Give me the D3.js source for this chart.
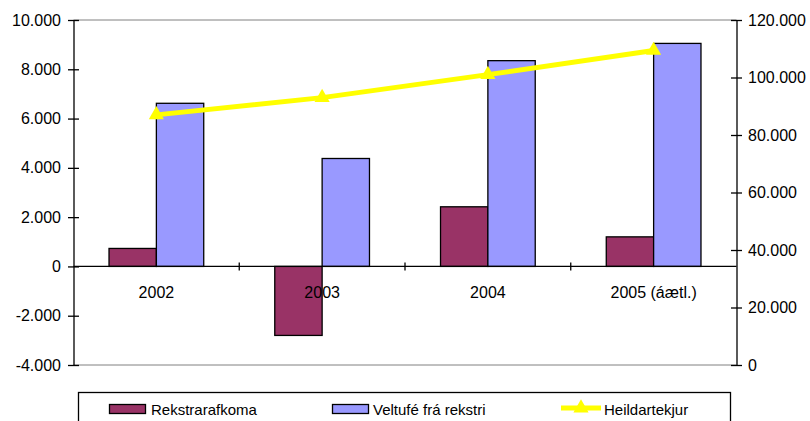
<!DOCTYPE html>
<html>
<head>
<meta charset="utf-8">
<script src="https://cdn.jsdelivr.net/npm/d3@7"></script>
<style>
  body { margin: 0; background: #fff; }
  svg text { font-family: "Liberation Sans", Arial, sans-serif; font-size: 16px; fill: #000; }
</style>
</head>
<body>
<svg id="chart" width="810" height="421"></svg>
<script>
// data
var years = ["2002", "2003", "2004", "2005 (áætl.)"];
var rekstrarafkoma = [730, -2800, 2420, 1200];
var veltufe = [6620, 4380, 8350, 9050];
var heildartekjur = [87000, 93000, 101000, 109400];
var leftTicks = [-4000, -2000, 0, 2000, 4000, 6000, 8000, 10000];
var rightTicks = [0, 20000, 40000, 60000, 80000, 100000, 120000];

var svg = d3.select("#chart");

var plotLeft = 73.5, plotRight = 736.5, plotTop = 20, plotBottom = 365;

var locale = d3.formatLocale({ decimal: ",", thousands: ".", grouping: [3], currency: ["", ""], minus: "-" });
var fmt = locale.format(",d");

var x = d3.scaleBand().domain(years).range([plotLeft, plotRight]);
var y = d3.scaleLinear().domain([-4000, 10000]).range([plotBottom, plotTop]);
var y2 = d3.scaleLinear().domain([0, 120000]).range([plotBottom, plotTop]);

var barW = x.bandwidth() / 3.5;

// plot border top / bottom (grey)
svg.append("line").attr("x1", plotLeft).attr("x2", plotRight).attr("y1", plotTop).attr("y2", plotTop)
  .style("stroke", "#808080").style("stroke-width", 1);
svg.append("line").attr("x1", plotLeft).attr("x2", plotRight).attr("y1", plotBottom).attr("y2", plotBottom)
  .style("stroke", "#808080").style("stroke-width", 1);

// bars
var groups = svg.selectAll("g.grp")
  .data(years)
  .enter().append("g")
  .attr("class", "grp");

groups.append("rect")
  .attr("x", function(d) { return x(d) + x.bandwidth() / 2 - barW; })
  .attr("y", function(d, i) { return y(Math.max(0, rekstrarafkoma[i])); })
  .attr("width", barW)
  .attr("height", function(d, i) { return Math.abs(y(rekstrarafkoma[i]) - y(0)); })
  .style("fill", "#993366").style("stroke", "#000").style("stroke-width", 1.3);

groups.append("rect")
  .attr("x", function(d) { return x(d) + x.bandwidth() / 2; })
  .attr("y", function(d, i) { return y(Math.max(0, veltufe[i])); })
  .attr("width", barW)
  .attr("height", function(d, i) { return Math.abs(y(veltufe[i]) - y(0)); })
  .style("fill", "#9999FF").style("stroke", "#000").style("stroke-width", 1.3);

// zero axis with category ticks
var xAxis = svg.append("g")
  .attr("transform", "translate(0," + y(0) + ")");
xAxis.append("line").attr("x1", plotLeft).attr("x2", plotRight).attr("y1", 0).attr("y2", 0)
  .style("stroke", "#000").style("stroke-width", 1.3);
xAxis.selectAll("line.ct")
  .data(years.slice(1))
  .enter().append("line")
  .attr("class", "ct")
  .attr("x1", function(d) { return x(d); }).attr("x2", function(d) { return x(d); })
  .attr("y1", -4).attr("y2", 4)
  .style("stroke", "#000").style("stroke-width", 1.3);
xAxis.selectAll("text")
  .data(years)
  .enter().append("text")
  .attr("x", function(d) { return x(d) + x.bandwidth() / 2; })
  .attr("y", 32)
  .attr("text-anchor", "middle")
  .text(function(d) { return d; });

// left axis
var leftAxis = svg.append("g")
  .attr("transform", "translate(" + plotLeft + ",0)")
  .call(d3.axisLeft(y).tickValues(leftTicks).tickFormat(fmt).tickSizeInner(5.5).tickSizeOuter(0).tickPadding(7));
leftAxis.selectAll(".tick line").attr("x1", 5.5);
leftAxis.select(".domain").style("stroke-width", 1.3);
leftAxis.selectAll(".tick line").style("stroke-width", 1.3);
leftAxis.selectAll("text").style("font-size", "16px").style("font-family", "Liberation Sans, Arial, sans-serif");

// right axis
var rightAxis = svg.append("g")
  .attr("transform", "translate(" + plotRight + ",0)")
  .call(d3.axisRight(y2).tickValues(rightTicks).tickFormat(fmt).tickSizeInner(5.5).tickSizeOuter(0).tickPadding(6));
rightAxis.selectAll(".tick line").attr("x1", -5.5);
rightAxis.select(".domain").style("stroke-width", 1.3);
rightAxis.selectAll(".tick line").style("stroke-width", 1.3);
rightAxis.selectAll("text").style("font-size", "16px").style("font-family", "Liberation Sans, Arial, sans-serif");

// line series
var line = d3.line()
  .x(function(d, i) { return x(years[i]) + x.bandwidth() / 2; })
  .y(function(d) { return y2(d); });

svg.append("path")
  .datum(heildartekjur)
  .attr("d", line)
  .style("fill", "none").style("stroke", "#FFFF00").style("stroke-width", 5);

var tri = d3.symbol().type(d3.symbolTriangle).size(100);
svg.selectAll("path.mk")
  .data(heildartekjur)
  .enter().append("path")
  .attr("class", "mk")
  .attr("d", tri)
  .attr("transform", function(d, i) { return "translate(" + (x(years[i]) + x.bandwidth() / 2) + "," + y2(d) + ")"; })
  .style("fill", "#FFFF00");

// legend
svg.append("rect").attr("x", 78.5).attr("y", 392.5).attr("width", 652).attr("height", 40)
  .style("fill", "#fff").style("stroke", "#000").style("stroke-width", 1.3);
svg.append("rect").attr("x", 109.5).attr("y", 404.5).attr("width", 36).attr("height", 9)
  .style("fill", "#993366").style("stroke", "#000").style("stroke-width", 1.3);
svg.append("text").attr("x", 151).attr("y", 415).style("font-size", "15px").text("Rekstrarafkoma");
svg.append("rect").attr("x", 332.5).attr("y", 404.5).attr("width", 36).attr("height", 9)
  .style("fill", "#9999FF").style("stroke", "#000").style("stroke-width", 1.3);
svg.append("text").attr("x", 373).attr("y", 415).style("font-size", "15px").text("Veltufé frá rekstri");
svg.append("line").attr("x1", 561).attr("x2", 601).attr("y1", 408).attr("y2", 408)
  .style("stroke", "#FFFF00").style("stroke-width", 5);
svg.append("path").attr("d", tri).attr("transform", "translate(581,408)").style("fill", "#FFFF00");
svg.append("text").attr("x", 604).attr("y", 415).style("font-size", "15px").text("Heildartekjur");
</script>
</body>
</html>
